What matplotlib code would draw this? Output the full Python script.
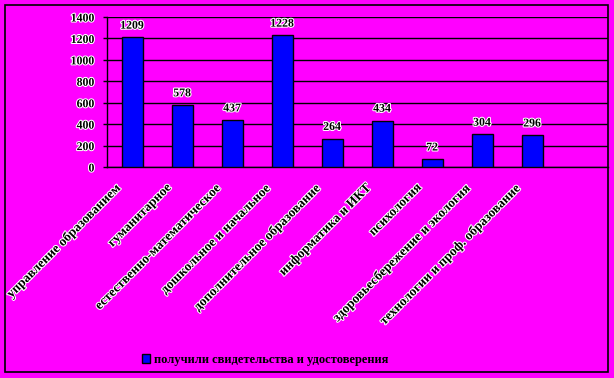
import matplotlib.pyplot as plt
import matplotlib.patheffects as pe
import matplotlib.transforms as mtransforms
from matplotlib.patches import Rectangle

# data
categories = ['управление образованием', 'гуманитарное', 'естественно-математическое',
              'дошкольное и начальное', 'дополнительное образование', 'информатика и ИКТ',
              'психология', 'здоровьесбережение и экология', 'технологии и проф. образование']
values = [1209, 578, 437, 1228, 264, 434, 72, 304, 296]
yticks = [0, 200, 400, 600, 800, 1000, 1200, 1400]
series_name = 'получили свидетельства и удостоверения'

plt.rcParams['font.family'] = ['Liberation Serif', 'DejaVu Serif']
plt.rcParams['font.weight'] = 'bold'
magenta = '#ff00ff'
halo = [pe.withStroke(linewidth=1.5, foreground='white')]

fig = plt.figure(figsize=(6.14, 3.78), dpi=100, facecolor=magenta)
ax = fig.add_axes([107 / 614, 1 - 167 / 378, (608 - 107) / 614, 150 / 378])
ax.set_facecolor(magenta)

# outer frame
fig.patches.append(Rectangle((5 / 614, 1 - 372 / 378), 603 / 614, 367 / 378,
                             transform=fig.transFigure, fill=False, edgecolor='black', lw=1.2))

x = range(len(categories))
bars = ax.bar(x, values, width=0.42, color='#0000ff', edgecolor='black', linewidth=1,
              label=series_name, zorder=3)
for xi, v in zip(x, values):
    ax.text(xi, v + 110, str(v), ha='center', va='center', fontsize=8.5,
            fontweight='bold', path_effects=halo)

ax.set_ylim(0, 1400)
ax.set_xlim(-0.5, 9.52)
ax.set_yticks(yticks)
ax.set_yticklabels([str(t) for t in yticks], fontsize=8.5, fontweight='bold')
for t in ax.get_yticklabels():
    t.set_path_effects(halo)
ax.tick_params(axis='y', length=3, width=1, pad=6)
ax.yaxis.grid(True, color='black', linewidth=1, zorder=0)
ax.set_axisbelow(True)

# category labels, rotated, shifted a bit left of each tick
ax.set_xticks(list(x))
ax.set_xticklabels([])
ax.tick_params(axis='x', length=0)
lab_tr = mtransforms.offset_copy(ax.get_xaxis_transform(), fig=fig,
                                 x=-16, y=-14, units='dots')
for xi, c in zip(x, categories):
    ax.text(xi, 0, c, transform=lab_tr, rotation=45, ha='right', va='top',
            rotation_mode='anchor', fontsize=9.5, fontweight='bold',
            path_effects=halo, clip_on=False)

for s in ['top', 'right']:
    ax.spines[s].set_visible(False)
ax.spines['left'].set_linewidth(1)
ax.spines['bottom'].set_linewidth(1)

leg = fig.legend(handles=[bars], labels=[series_name], loc='center',
                 bbox_to_anchor=(265 / 614, 1 - 360 / 378), frameon=False,
                 fontsize=9, handlelength=0.7, handleheight=0.7, handletextpad=0.3)

fig.savefig('out.png', dpi=100, facecolor=magenta)
